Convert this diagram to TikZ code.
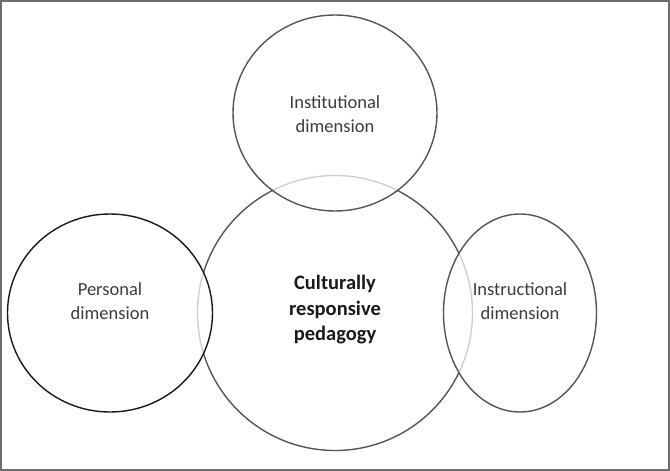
\documentclass[tikz,border=0pt]{standalone}
\usepackage{fontspec}
\setmainfont{Carlito}
\usetikzlibrary{shapes,positioning}
\definecolor{ringgray}{RGB}{85,85,85}
\definecolor{ringdark}{RGB}{25,25,25}
\definecolor{framegray}{RGB}{110,110,110}
\definecolor{textgray}{RGB}{60,60,60}
\tikzstyle{dim} = [ellipse, draw=ringgray, line width=1.4pt, fill=white,
    fill opacity=0.72, inner sep=0pt]
\tikzstyle{dimtext} = [text=textgray, align=center]

\begin{document}
\begin{tikzpicture}[x=1pt, y=-1pt, font=\fontsize{18.5}{24}\selectfont]

	\useasboundingbox (0,0) rectangle (670,471);
	\draw [framegray, line width=1.6pt] (0.8,0.8) rectangle (669.2,470.2);

	\node [circle, draw=ringgray, line width=1.4pt, minimum size=275pt, inner sep=0pt] (core) at (335,313) {};

	\node [dim, above of=core, node distance=200pt, minimum width=204pt, minimum height=196pt] (institutional) {};
	\node [dim, left of=core, node distance=225pt, draw=ringdark, minimum width=205pt, minimum height=198pt] (personal) {};
	\node [dim, right of=core, node distance=185pt, minimum width=153pt, minimum height=198pt] (instructional) {};

	\node [dimtext] (institutionaltxt) at ([yshift=-1pt]institutional.center) {Institutional\\dimension};
	\node [dimtext] (personaltxt) at ([yshift=12pt]personal.center) {Personal\\dimension};
	\node [dimtext] (instructionaltxt) at ([yshift=12pt]instructional.center) {Instructional\\dimension};
	\node [dimtext, text=ringdark, font=\fontsize{20.5}{25.5}\selectfont\bfseries] (coretxt) at ([yshift=3pt]core.center) {Culturally\\responsive\\pedagogy};

\end{tikzpicture}
\end{document}
